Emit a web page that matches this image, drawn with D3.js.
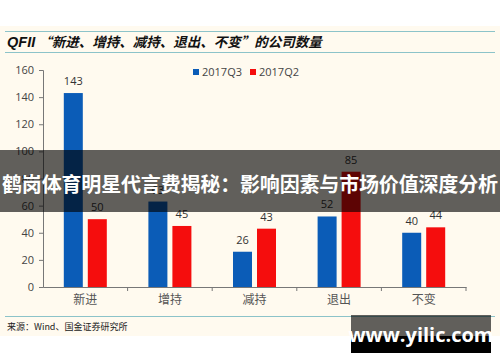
<!DOCTYPE html>
<html>
<head>
<meta charset="utf-8">
<script src="https://cdn.jsdelivr.net/npm/d3@7"></script>
<style>
  body { margin: 0; background: #fff; }
  svg { display: block; }
</style>
</head>
<body>
<div id="chart"></div>
<script>
// Chart data
var categories = ["新进", "增持", "减持", "退出", "不变"];
var seriesNames = ["2017Q3", "2017Q2"];
var q3Values = [143, 63, 26, 52, 40];
var q2Values = [50, 45, 43, 85, 44];
var yTicks = [0, 20, 40, 60, 80, 100, 120, 140, 160];

var colors = { "2017Q3": "#0b5cb7", "2017Q2": "#f50d0d" };

var svgWidth = 500;
var svgHeight = 362;

// plot area
var margin = { top: 70, right: 34, bottom: 75, left: 43 };
var width = svgWidth - margin.left - margin.right;
var height = svgHeight - margin.top - margin.bottom;

var svg = d3.select("#chart")
  .append("svg")
  .attr("width", svgWidth)
  .attr("height", svgHeight);

// cream panel
svg.append("rect")
  .attr("x", 0).attr("y", 26)
  .attr("width", svgWidth).attr("height", 310)
  .attr("fill", "#fffaef");

// title lines
svg.append("line").attr("x1", 5).attr("x2", 495).attr("y1", 31.5).attr("y2", 31.5)
  .attr("stroke", "#8cc3c9").attr("stroke-width", 1);
svg.append("line").attr("x1", 5).attr("x2", 495).attr("y1", 52.5).attr("y2", 52.5)
  .attr("stroke", "#8cc3c9").attr("stroke-width", 1);

var title = svg.append("text")
  .attr("x", 7).attr("y", 47)
  .attr("font-weight", "bold")
  .attr("font-style", "italic")
  .attr("fill", "#111");
title.append("tspan").attr("font-family", "Liberation Sans, Arial").attr("font-size", 14.5).text("QFII");
title.append("tspan").attr("font-family", "Noto Sans CJK SC").attr("font-size", 13.5)
  .attr("dx", 3).text("“新进、增持、减持、退出、不变”的公司数量");

var chartGroup = svg.append("g")
  .attr("transform", `translate(${margin.left}, ${margin.top})`);

// scales
var x0 = d3.scaleBand()
  .domain(categories)
  .range([0, width]);

var y = d3.scaleLinear()
  .domain([0, 160])
  .range([height, 0]);

var data = categories.map(function(c, i) {
  return { cat: c, values: [
    { key: "2017Q3", value: q3Values[i] },
    { key: "2017Q2", value: q2Values[i] }
  ] };
});

var barW = 19, gap = 5;
var x1 = d3.scaleOrdinal()
  .domain(seriesNames)
  .range([x0.bandwidth() / 2 - gap / 2 - barW, x0.bandwidth() / 2 + gap / 2]);

// y axis
var leftAxis = d3.axisLeft(y).tickValues(yTicks).tickSize(4).tickPadding(5);
var yAxisG = chartGroup.append("g").call(leftAxis);
yAxisG.select(".domain").attr("stroke", "#777");
yAxisG.selectAll(".tick line").attr("stroke", "#777");
yAxisG.selectAll("text")
  .attr("font-family", "Open Sans, DejaVu Sans")
  .attr("font-size", 11)
  .attr("fill", "#444");

// x axis
var bottomAxis = d3.axisBottom(x0).tickSize(0).tickPadding(8);
var xAxisG = chartGroup.append("g")
  .attr("transform", `translate(0, ${height})`)
  .call(bottomAxis);
xAxisG.select(".domain").attr("stroke", "#777");
xAxisG.selectAll("text")
  .attr("font-family", "Noto Sans CJK SC")
  .attr("font-size", 12)
  .attr("fill", "#555");

// category boundary ticks
chartGroup.append("g")
  .selectAll("line")
  .data(categories.slice(1).concat(["end"]))
  .enter()
  .append("line")
  .attr("x1", function(d, i) { return x0.bandwidth() * (i + 1); })
  .attr("x2", function(d, i) { return x0.bandwidth() * (i + 1); })
  .attr("y1", height)
  .attr("y2", height + 4)
  .attr("stroke", "#777");

// bars
var groups = chartGroup.selectAll(".grp")
  .data(data)
  .enter()
  .append("g")
  .attr("class", "grp")
  .attr("transform", d => `translate(${x0(d.cat)}, 0)`);

groups.selectAll("rect")
  .data(d => d.values)
  .enter()
  .append("rect")
  .attr("x", d => x1(d.key))
  .attr("y", d => y(d.value))
  .attr("width", barW)
  .attr("height", d => height - y(d.value))
  .attr("fill", d => colors[d.key]);

groups.selectAll(".lbl")
  .data(d => d.values)
  .enter()
  .append("text")
  .attr("class", "lbl")
  .attr("x", d => x1(d.key) + barW / 2)
  .attr("y", d => y(d.value) - 8)
  .attr("text-anchor", "middle")
  .attr("font-family", "Open Sans, DejaVu Sans")
  .attr("font-size", 11)
  .attr("fill", "#333")
  .text(d => d.value);

// legend
var legend = svg.append("g").attr("transform", "translate(193, 71)");
var legItems = legend.selectAll("g")
  .data(seriesNames)
  .enter()
  .append("g")
  .attr("transform", (d, i) => `translate(${i * 57}, 0)`);
legItems.append("rect")
  .attr("width", 6).attr("height", 6).attr("y", -2)
  .attr("fill", d => colors[d]);
legItems.append("text")
  .attr("x", 9).attr("y", 5)
  .attr("font-family", "Open Sans, DejaVu Sans")
  .attr("font-size", 11)
  .attr("fill", "#444")
  .text(d => d);

// source line
svg.append("line").attr("x1", 5).attr("x2", 495).attr("y1", 316.5).attr("y2", 316.5)
  .attr("stroke", "#8cc3c9").attr("stroke-width", 1);
svg.append("text")
  .attr("x", 7).attr("y", 330)
  .attr("font-family", "Noto Sans CJK SC")
  .attr("font-size", 9)
  .attr("fill", "#222")
  .text("来源：Wind、国金证券研究所");

// overlay banner
svg.append("rect")
  .attr("x", 0).attr("y", 150)
  .attr("width", svgWidth).attr("height", 62)
  .attr("fill", "#000").attr("opacity", 0.62);
svg.append("text")
  .attr("x", svgWidth / 2).attr("y", 192)
  .attr("text-anchor", "middle")
  .attr("font-family", "Noto Sans CJK SC")
  .attr("font-weight", "bold")
  .attr("font-size", 20)
  .attr("textLength", 496)
  .attr("fill", "#fff")
  .text("鹤岗体育明星代言费揭秘：影响因素与市场价值深度分析");

// watermark
svg.append("rect")
  .attr("x", 351).attr("y", 315)
  .attr("width", 140).attr("height", 38)
  .attr("fill", "#000").attr("opacity", 0.62);
svg.append("rect")
  .attr("x", 351).attr("y", 336)
  .attr("width", 140).attr("height", 17)
  .attr("fill", "#000");
svg.append("text")
  .attr("x", 421).attr("y", 342)
  .attr("text-anchor", "middle")
  .attr("font-family", "Open Sans, DejaVu Sans")
  .attr("font-weight", "bold")
  .attr("font-size", 20)
  .attr("fill", "#fff")
  .text("www.yilic.com");
</script>
</body>
</html>
